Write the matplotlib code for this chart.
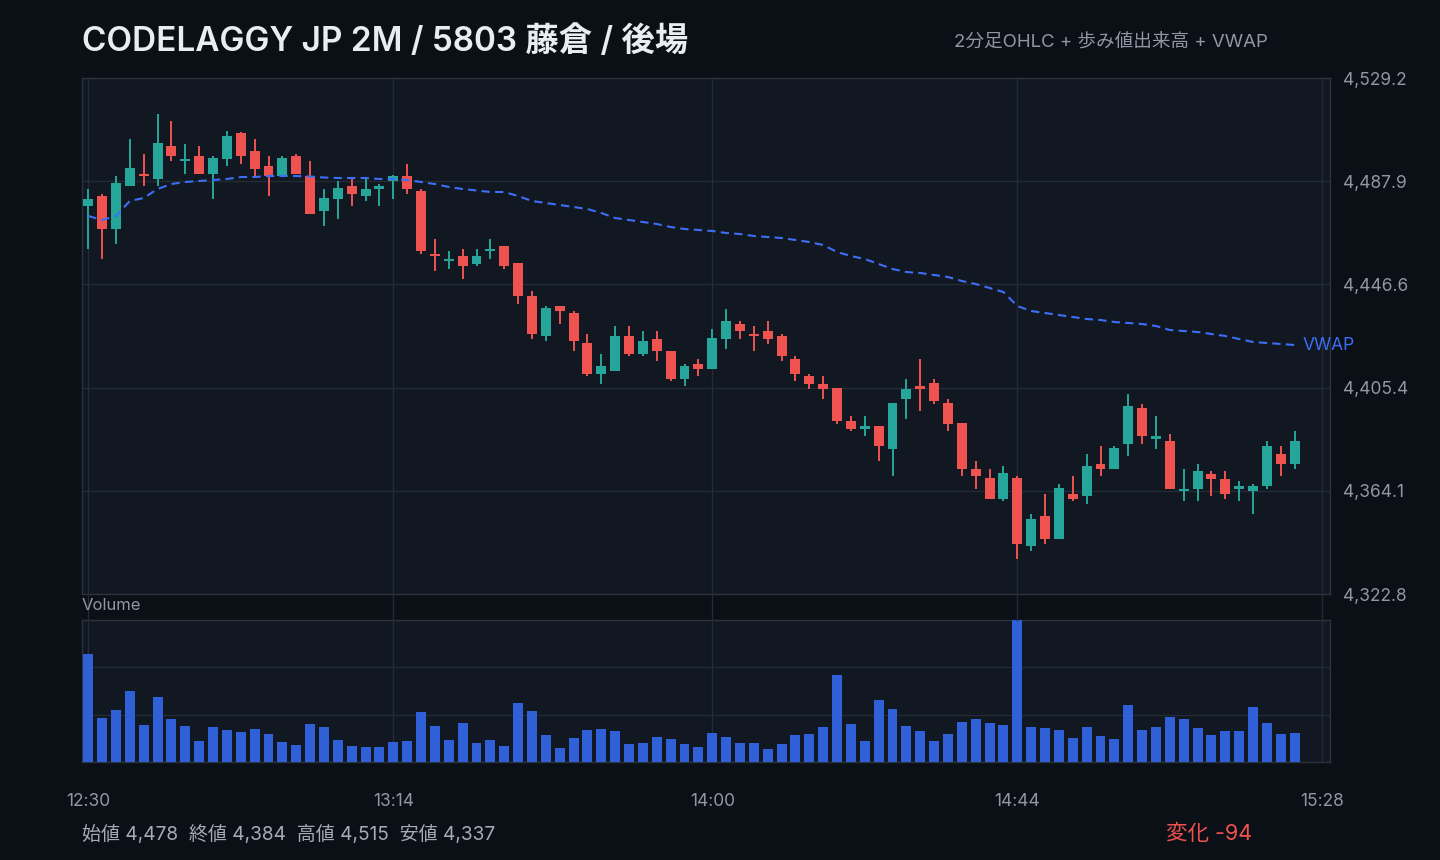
#Fujikura 2-minute candles for the afternoon session with volume and VWAP

#Importing necessary packages
import numpy as np
import matplotlib.pyplot as plt
from matplotlib.lines import Line2D

plt.rcParams['font.family'] = ['Inter', 'Noto Sans CJK JP', 'DejaVu Sans']

#Data: one bar every 2 minutes starting at 12:30
start_hour, start_min, step_min = 12, 30, 2

opens = [4478, 4482, 4469, 4486, 4491, 4489, 4502, 4496, 4498, 4491,
         4497, 4507, 4500, 4494, 4490, 4498, 4490, 4476, 4481, 4486,
         4482, 4485, 4488, 4490, 4484, 4459, 4456, 4458, 4455, 4460,
         4462, 4455, 4442, 4426, 4438, 4435, 4423, 4411, 4412, 4426,
         4419, 4425, 4420, 4409, 4415, 4413, 4425, 4431, 4427, 4428,
         4426, 4417, 4410, 4407, 4405, 4392, 4389, 4390, 4381, 4401,
         4406, 4407, 4399, 4391, 4373, 4369, 4361, 4369, 4342, 4354,
         4345, 4363, 4362, 4375, 4373, 4383, 4397, 4385, 4384, 4364,
         4365, 4371, 4369, 4365, 4364, 4366, 4379, 4375]
highs = [4485, 4483, 4490, 4505, 4499, 4515, 4512, 4503, 4502, 4498,
         4508, 4507.5, 4505, 4498, 4498, 4499, 4496, 4485, 4488, 4489,
         4489, 4487, 4490.5, 4495, 4485, 4465, 4460, 4461, 4461, 4465,
         4462, 4455, 4444, 4438, 4438, 4436, 4427, 4419, 4430, 4430,
         4428, 4428, 4420, 4415, 4417, 4429, 4437, 4432, 4430, 4432,
         4427, 4418, 4411, 4410, 4405, 4394, 4394, 4390, 4399, 4409,
         4417, 4409, 4401, 4391, 4376, 4373, 4374, 4370, 4355, 4363,
         4367, 4370, 4379, 4382, 4382, 4403, 4399, 4394, 4387, 4373,
         4375, 4372, 4372, 4368, 4367, 4384, 4382, 4388]
lows = [4461, 4457, 4463, 4486, 4486, 4486, 4496, 4491, 4491, 4481,
        4494, 4495, 4490, 4482, 4490, 4491, 4475, 4470, 4473, 4478,
        4480, 4478, 4481, 4483, 4459, 4452, 4453, 4449, 4454, 4457,
        4453, 4439, 4425, 4424, 4431, 4420, 4410, 4407, 4412, 4418,
        4418, 4416, 4408, 4406, 4410, 4413, 4421, 4425, 4420, 4423,
        4416, 4408, 4405, 4401, 4391, 4388, 4386, 4376, 4370, 4393,
        4396, 4399, 4388, 4370, 4365, 4361, 4360, 4337, 4340, 4343,
        4345, 4360, 4359, 4370, 4373, 4378, 4383, 4381, 4365, 4360,
        4360, 4362, 4361, 4360, 4355, 4365, 4370, 4373]
closes = [4481, 4469, 4487, 4493, 4490, 4503, 4498, 4497, 4491, 4497,
          4506, 4498, 4493, 4490, 4497, 4491, 4475, 4481, 4485, 4483,
          4485, 4486, 4490, 4485, 4460, 4458, 4457, 4454, 4458, 4461,
          4454, 4442, 4427, 4437, 4436, 4424, 4411, 4414, 4426, 4419,
          4424, 4420, 4409, 4414, 4413, 4425, 4432, 4428, 4426, 4425,
          4418, 4411, 4407, 4405, 4392, 4389, 4390, 4382, 4399, 4405,
          4405, 4400, 4391, 4373, 4370, 4361, 4371, 4343, 4353, 4345,
          4365, 4361, 4374, 4373, 4381, 4398, 4386, 4386, 4365, 4365,
          4372, 4369, 4363, 4366, 4366, 4382, 4375, 4384]
vwap = [4474.0, 4472.4, 4474.0, 4480.0, 4481.2, 4484.8, 4486.8, 4487.6, 4488.0, 4488.4,
        4488.8, 4489.6, 4489.6, 4490.0, 4490.0, 4490.0, 4489.8, 4489.4, 4489.2, 4489.2,
        4489.2, 4488.8, 4488.8, 4488.4, 4487.6, 4486.8, 4485.6, 4484.8, 4484.2, 4483.6,
        4483.6, 4482.0, 4480.0, 4479.2, 4478.4, 4477.6, 4476.8, 4475.2, 4473.2, 4472.4,
        4471.6, 4470.8, 4469.6, 4468.8, 4468.4, 4468.0, 4467.2, 4466.8, 4466.0, 4465.6,
        4465.2, 4464.4, 4463.6, 4462.4, 4459.6, 4458.0, 4456.8, 4454.8, 4452.8, 4451.6,
        4451.2, 4450.4, 4449.6, 4448.0, 4446.8, 4445.2, 4443.6, 4438.0, 4436.0, 4435.2,
        4434.4, 4433.6, 4432.8, 4432.4, 4431.6, 4431.2, 4430.8, 4430.0, 4428.4, 4428.0,
        4427.6, 4426.8, 4426.0, 4424.8, 4423.6, 4423.2, 4422.8, 4422.4]
volume = [10800, 4400, 5200, 7100, 3700, 6500, 4300, 3600, 2100, 3500,
          3200, 3000, 3300, 2800, 2000, 1700, 3800, 3500, 2200, 1600,
          1500, 1500, 2000, 2100, 5000, 3600, 2200, 3900, 1900, 2200,
          1600, 5900, 5100, 2700, 1400, 2400, 3200, 3300, 3100, 1800,
          1900, 2500, 2300, 1800, 1500, 2900, 2500, 1900, 1900, 1300,
          1800, 2700, 2800, 3500, 8700, 3800, 2100, 6200, 5300, 3600,
          3100, 2100, 2800, 4000, 4300, 3900, 3700, 14200, 3500, 3400,
          3200, 2400, 3500, 2600, 2300, 5700, 3200, 3500, 4500, 4300,
          3400, 2700, 3100, 3100, 5500, 3900, 2800, 2900]

title = 'CODELAGGY JP 2M / 5803 藤倉 / 後場'
subtitle = '2分足OHLC + 歩み値出来高 + VWAP'
tick_idx = [0, 22, 45, 67, 89]

#Colours
BG = '#0b0f16'
PANEL = '#111821'
GRID = '#222b36'
EDGE = '#2a333e'
GREY = '#8f98a4'
UP = '#26a69a'
DOWN = '#ef5350'
VOLC = '#3060d8'
VWAPC = '#3d6ef5'

n = len(opens)
x = np.arange(n)
o = np.array(opens, float)
c = np.array(closes, float)
up = c >= o
cols = [UP if u else DOWN for u in up]
tick_lbl = []
for i in tick_idx:
    m = start_hour*60 + start_min + i*step_min
    tick_lbl.append(f'{m//60}:{m % 60:02d}')

W, H = 1440, 860
def box(l, t, r, b):
    return [l/W, 1 - b/H, (r - l)/W, (b - t)/H]

fig = plt.figure(figsize=(14.4, 8.6), dpi=100, facecolor=BG)
ax = fig.add_axes(box(82, 78, 1330, 594), facecolor=PANEL)
axv = fig.add_axes(box(82, 620, 1330, 762), facecolor=PANEL, sharex=ax)

#Candles
ax.vlines(x, lows, highs, colors=cols, lw=1.4, zorder=3)
body = np.maximum(np.abs(c - o), 0.6)
ax.bar(x, body, bottom=np.minimum(o, c), width=0.72, color=cols, zorder=4)

#VWAP
ax.plot(x, vwap, color=VWAPC, lw=1.5, ls=(0, (4, 2.5)), zorder=5)
ax.annotate('VWAP', xy=(x[-1], vwap[-1]), xytext=(6, 0), textcoords='offset points',
            color=VWAPC, fontsize=12.5, va='center', ha='left', annotation_clip=False)

lo, hi = 4322.8, 4529.2
ax.set_xlim(-0.45, 89.55)
ax.set_ylim(lo, hi)
yt = np.linspace(lo, hi, 6)
ax.set_yticks(yt)
ax.set_yticklabels([f'{v:,.1f}' for v in yt])
ax.yaxis.tick_right()
ax.set_xticks(tick_idx)
ax.tick_params(axis='x', length=0, labelbottom=False)
ax.tick_params(axis='y', length=0, pad=9, labelsize=12.5, labelcolor=GREY)
ax.grid(True, color=GRID, lw=1)
ax.set_axisbelow(True)

#Volume
axv.bar(x, volume, width=0.72, color=VOLC, zorder=3)
vmax = max(volume)
axv.set_ylim(0, vmax)
axv.set_yticks([vmax/3, 2*vmax/3])
axv.tick_params(axis='y', length=0, labelleft=False, labelright=False)
axv.set_xticks(tick_idx)
axv.set_xticklabels(tick_lbl)
axv.tick_params(axis='x', length=0, pad=22, labelsize=12.5, labelcolor=GREY)
axv.grid(True, color=GRID, lw=1)
axv.set_axisbelow(True)

for a in (ax, axv):
    for s in a.spines.values():
        s.set_color(EDGE)
        s.set_linewidth(1)

#Vertical grid lines carry on through the gap between panels
inv = fig.transFigure.inverted()
for i in tick_idx:
    xf = inv.transform(ax.transData.transform((i, lo)))[0]
    fig.add_artist(Line2D([xf, xf], [1 - 620/H, 1 - 594/H], color=GRID, lw=1))

fig.text(82/W, 1 - 606/H, 'Volume', color=GREY, fontsize=12, va='center', ha='left')

#Header
fig.text(82/W, 1 - 41.5/H, title, color='#e8edf3', fontsize=24, fontweight='semibold',
         va='center', ha='left')
fig.text(1268/W, 1 - 41.5/H, subtitle, color=GREY, fontsize=13.4, va='center', ha='right')

#Summary line
first_open, last_close = opens[0], closes[-1]
stats = (f'始値 {first_open:,.0f}  終値 {last_close:,.0f}  '
         f'高値 {max(highs):,.0f}  安値 {min(lows):,.0f}')
fig.text(82/W, 1 - 834.5/H, stats, color='#a4acb7', fontsize=13.7, va='center', ha='left')
chg = last_close - first_open
fig.text(1252/W, 1 - 834/H, f'変化 {chg:+,.0f}', color=DOWN if chg < 0 else UP,
         fontsize=15.5, va='center', ha='right')

fig.savefig('out.png', dpi=100, facecolor=BG)
